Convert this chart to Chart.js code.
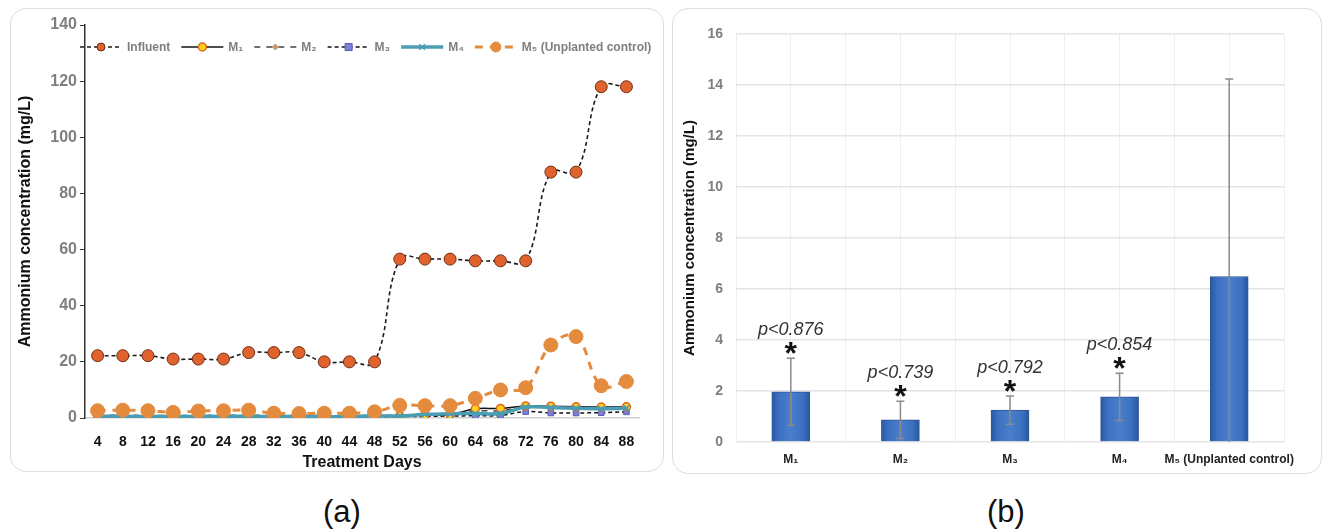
<!DOCTYPE html>
<html><head><meta charset="utf-8">
<script src="https://cdn.jsdelivr.net/npm/chart.js@4.4.0/dist/chart.umd.min.js"></script>
<style>
body{margin:0;background:#fff;width:1323px;height:532px;overflow:hidden;position:relative;font-family:"Liberation Sans",Arial,sans-serif;}
.panel{position:absolute;border:1.5px solid #dedede;border-radius:16px;box-sizing:border-box;}
#pa{left:10px;top:8px;width:654px;height:464px;}
#pb{left:672px;top:8px;width:650px;height:466px;}
canvas{position:absolute;}
#ca{left:10px;top:8px;}
#cb{left:672px;top:8px;}
.lab{position:absolute;font-size:31px;top:494px;color:#111;}
</style></head>
<body>
<div class="panel" id="pa"></div>
<div class="panel" id="pb"></div>
<canvas id="ca" width="654" height="464"></canvas>
<canvas id="cb" width="650" height="466"></canvas>
<div class="lab" style="left:323px">(a)</div>
<div class="lab" style="left:987px">(b)</div>
<script>
// ---------- data (a) ----------
const days = ['4','8','12','16','20','24','28','32','36','40','44','48','52','56','60','64','68','72','76','80','84','88'];
const influent = [22.2,22.2,22.2,21.0,21.0,21.0,23.3,23.3,23.3,20.0,20.0,20.0,56.6,56.6,56.6,56.0,56.0,56.0,87.6,87.6,118,118];
const m1 = [0.8,0.8,0.7,0.7,0.7,0.8,0.8,0.7,0.7,0.7,0.7,0.7,0.8,1.0,1.2,3.3,3.4,4.3,4.2,4.0,3.9,4.0];
const m2 = [1.0,1.0,0.9,0.9,0.9,1.0,1.0,0.9,0.9,0.9,0.9,0.9,1.0,1.2,1.4,2.5,2.6,3.9,3.7,3.6,3.5,3.6];
const m3 = [0.4,0.4,0.4,0.4,0.4,0.4,0.4,0.4,0.4,0.4,0.4,0.4,0.5,0.6,0.7,0.8,0.9,2.3,1.8,1.8,1.9,2.2];
const m4 = [0.6,0.6,0.5,0.5,0.5,0.6,0.6,0.5,0.5,0.5,0.5,0.8,0.7,1.3,1.5,1.6,1.6,3.9,3.7,3.5,3.3,3.5];
const m5 = [2.6,2.8,2.6,2.0,2.5,2.6,2.8,1.7,1.6,1.7,1.7,2.2,4.5,4.4,4.4,7.0,10.0,10.8,26.0,29.0,11.5,13.0];
const yTicksA = {min:0,max:140,step:20};

// ---------- data (b) ----------
const groups = ['M\u2081','M\u2082','M\u2083','M\u2084','M\u2085 (Unplanted control)'];
const means = [1.97,0.87,1.25,1.77,6.49];
const errs = [1.31,0.73,0.55,0.93,7.75];
const pLabels = ['p<0.876','p<0.739','p<0.792','p<0.854',''];
const yTicksB = {min:0,max:16,step:2};

const FONT = '"Liberation Sans", Arial, sans-serif';
Chart.defaults.font.family = FONT;
Chart.defaults.devicePixelRatio = 1;

const legendPlugin = {
  id:'customLegend',
  afterDraw(chart){
    const ctx = chart.ctx; let x = 70; const y = 39;
    ctx.save();
    ctx.font = 'bold 12px ' + FONT; ctx.textBaseline = 'middle';
    chart.data.datasets.forEach(ds=>{
      ctx.setLineDash(ds.borderDash || []);
      ctx.strokeStyle = ds.borderColor; ctx.lineWidth = ds.borderWidth;
      ctx.beginPath(); ctx.moveTo(x,y); ctx.lineTo(x+42,y); ctx.stroke();
      ctx.setLineDash([]);
      ctx.fillStyle = ds.pointBackgroundColor; ctx.strokeStyle = ds.pointBorderColor; ctx.lineWidth = ds.pointBorderWidth || 1;
      Chart.helpers.drawPoint(ctx,{pointStyle:ds.pointStyle,radius:ds.legendRadius,rotation:0,borderWidth:ds.pointBorderWidth||1},x+21,y);
      ctx.fillStyle = '#7f7f7f';
      ctx.fillText(ds.label, x+47, y+1);
      x += 47 + ctx.measureText(ds.label).width + 11;
    });
    ctx.restore();
  }
};

new Chart(document.getElementById('ca'),{
  type:'line',
  data:{labels:days,datasets:[
    {label:'Influent',data:influent,borderColor:'#1a1a1a',borderWidth:1.6,borderDash:[4,3],tension:0.4,
     pointStyle:'circle',pointRadius:6,legendRadius:4,pointBackgroundColor:'#e0622c',pointBorderColor:'#6e2f16',pointBorderWidth:1,order:1},
    {label:'M\u2081',data:m1,borderColor:'#111',borderWidth:1.5,tension:0.4,
     pointStyle:'circle',pointRadius:4,legendRadius:4,pointBackgroundColor:'#ffd21f',pointBorderColor:'#e2641e',pointBorderWidth:1.5,order:4},
    {label:'M\u2082',data:m2,borderColor:'#444',borderWidth:1.5,borderDash:[6,6],tension:0.4,
     pointStyle:'rectRot',pointRadius:3,legendRadius:3,pointBackgroundColor:'#e39140',pointBorderColor:'#a0a0a0',pointBorderWidth:1,order:5},
    {label:'M\u2083',data:m3,borderColor:'#111',borderWidth:1.5,borderDash:[4,3],tension:0.4,
     pointStyle:'rect',pointRadius:4,legendRadius:5,pointBackgroundColor:'#7b7fd6',pointBorderColor:'#5a5fb0',pointBorderWidth:1,order:6},
    {label:'M\u2084',data:m4,borderColor:'#4a9db3',borderWidth:3.5,tension:0.4,
     pointStyle:'crossRot',pointRadius:4,legendRadius:4,pointBackgroundColor:'#4a9db3',pointBorderColor:'#4a9db3',pointBorderWidth:1.5,order:3},
    {label:'M\u2085 (Unplanted control)',data:m5,borderColor:'#e48b3e',borderWidth:3,borderDash:[8,7],tension:0.4,
     pointStyle:'circle',pointRadius:7,legendRadius:5,pointBackgroundColor:'#e48b3e',pointBorderColor:'#e48b3e',pointBorderWidth:1,order:2}
  ]},
  options:{
    responsive:false,animation:false,
    layout:{padding:{left:0,top:17,right:25,bottom:0}},
    plugins:{legend:{display:false},tooltip:{enabled:false}},
    scales:{
      x:{offset:true,grid:{display:false},border:{color:'#d0d0d0',width:1.5},
         ticks:{color:'#111',font:{size:14,weight:'bold'},padding:8,maxRotation:0,autoSkip:false},
         title:{display:true,text:'Treatment Days',color:'#111',font:{size:16,weight:'bold'},padding:{top:0,bottom:0}},
         afterFit(s){s.height=54;}},
      y:{min:yTicksA.min,max:yTicksA.max,
         ticks:{stepSize:yTicksA.step,color:'#7f7f7f',font:{size:16,weight:'bold'},padding:3},
         grid:{drawOnChartArea:false,tickLength:5,color:'#333'},border:{color:'#333',width:1.5},
         title:{display:true,text:'Ammonium concentration (mg/L)',color:'#111',font:{size:16,weight:'bold'},padding:{top:6}},
         afterFit(s){s.width=75;}}
    }
  },
  plugins:[legendPlugin]
});

const errPlugin = {
  id:'errBars',
  afterDatasetsDraw(chart){
    const ctx = chart.ctx, sx = chart.scales.x, sy = chart.scales.y, ca = chart.chartArea;
    ctx.save();
    ctx.beginPath(); ctx.rect(ca.left,ca.top-2,ca.right-ca.left,ca.bottom-ca.top+2); ctx.clip();
    ctx.strokeStyle = '#8a8a8a'; ctx.lineWidth = 1.5;
    means.forEach((m,i)=>{
      const x = sx.getPixelForValue(i);
      const yt = sy.getPixelForValue(m+errs[i]), yb = sy.getPixelForValue(m-errs[i]);
      ctx.beginPath(); ctx.moveTo(x,yt); ctx.lineTo(x,yb);
      ctx.moveTo(x-4,yt); ctx.lineTo(x+4,yt);
      ctx.moveTo(x-4,yb); ctx.lineTo(x+4,yb); ctx.stroke();
    });
    ctx.restore();
    ctx.save();
    means.forEach((m,i)=>{
      if(!pLabels[i]) return;
      const x = sx.getPixelForValue(i);
      const yt = sy.getPixelForValue(m+errs[i]);
      ctx.fillStyle = '#333'; ctx.textAlign = 'center'; ctx.textBaseline = 'middle';
      ctx.font = 'italic 18px ' + FONT;
      ctx.fillText(pLabels[i], x, yt-28);
      ctx.fillStyle = '#111'; ctx.textBaseline = 'alphabetic';
      ctx.font = 'bold 32px ' + FONT;
      ctx.fillText('*', x, yt+6);
    });
    ctx.restore();
  }
};

new Chart(document.getElementById('cb'),{
  type:'bar',
  data:{labels:groups,datasets:[{data:means,barThickness:38,
    backgroundColor:(c)=>{
      const ch=c.chart, sx=ch.scales && ch.scales.x;
      if(!sx || c.dataIndex===undefined || !ch.chartArea) return '#3e72c2';
      const cx=sx.getPixelForValue(c.dataIndex);
      const g=ch.ctx.createLinearGradient(cx-19,0,cx+19,0);
      g.addColorStop(0,'#2a58a0');g.addColorStop(0.18,'#3c70c0');g.addColorStop(0.5,'#4a7fcd');
      g.addColorStop(0.82,'#3c70c0');g.addColorStop(1,'#29569c');
      return g;
    },
    borderColor:'#2b5598',borderWidth:1}]},
  options:{
    responsive:false,animation:false,
    layout:{padding:{left:0,top:26,right:38,bottom:0}},
    plugins:{legend:{display:false},tooltip:{enabled:false}},
    scales:{
      x:{grid:{color:'#efefef',offset:true,drawTicks:false},border:{display:false},
         ticks:{color:'#222',font:{size:12,weight:'bold'},padding:10,maxRotation:0,autoSkip:false},
         afterFit(s){s.height=32;}},
      x2:{type:'category',labels:groups,position:'bottom',offset:true,
         grid:{color:'#efefef',offset:false,drawTicks:false},border:{display:false},
         ticks:{display:false},afterFit(s){s.height=0;}},
      y:{min:yTicksB.min,max:yTicksB.max,
         ticks:{stepSize:yTicksB.step,color:'#7f7f7f',font:{size:14,weight:'bold'},padding:13},
         grid:{color:'#e4e4e4',lineWidth:1.5,drawTicks:false},border:{display:false},
         title:{display:true,text:'Ammonium concentration (mg/L)',color:'#111',font:{size:15,weight:'bold'},padding:{top:9}},
         afterFit(s){s.width=64;}}
    }
  },
  plugins:[errPlugin]
});
</script>
</body></html>
